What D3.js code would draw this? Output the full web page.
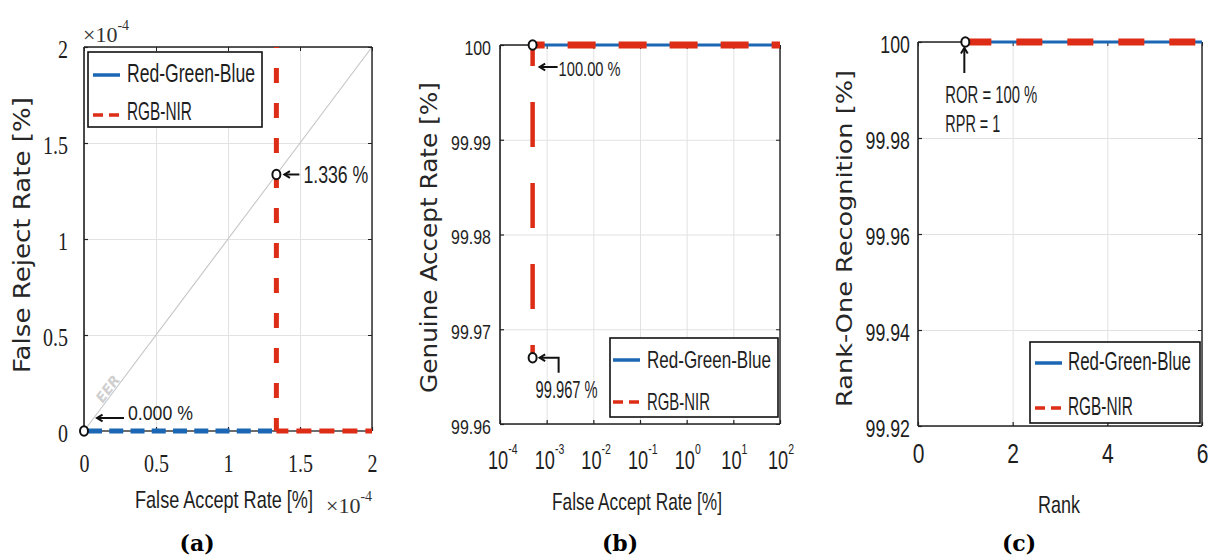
<!DOCTYPE html>
<html>
<head>
<meta charset="utf-8">
<script src="https://cdn.jsdelivr.net/npm/d3@7"></script>
<style>
  body { margin: 0; background: #fff; }
  svg { display: block; }
</style>
</head>
<body>
<svg id="chart" width="1211" height="560"></svg>
<script>
// ---------- (a) DET curves (values in %) ----------
const detTicks = [0, 0.5e-4, 1e-4, 1.5e-4, 2e-4];
const detRgbFar = [0, 1.336e-4];
const detRgbFrr = [0, 0];
const detNirFar = [1.336e-4, 1.336e-4, 2e-4];
const detNirFrr = [2e-4, 0, 0];
const eerRgb = 0;
const eerNir = 1.336e-4;

// ---------- (b) ROC curves ----------
const rocTicksX = [1e-4, 1e-3, 1e-2, 1e-1, 1, 10, 100];
const rocTicksY = [99.96, 99.97, 99.98, 99.99, 100];
const rocRgbFar = [5e-4, 100];
const rocRgbGar = [100, 100];
const rocNirFar = [5e-4, 5e-4, 100];
const rocNirGar = [99.967, 100, 100];

// ---------- (c) CMC curves ----------
const cmcTicksX = [0, 2, 4, 6];
const cmcTicksY = [99.92, 99.94, 99.96, 99.98, 100];
const cmcRank = [1, 2, 3, 4, 5, 6];
const cmcRgb = [100, 100, 100, 100, 100, 100];
const cmcNir = [100, 100, 100, 100, 100, 100];
const rprValue = 1;

const seriesNames = ["Red-Green-Blue", "RGB-NIR"];

// ---------- styling ----------
const BLUE = "#1b67b3";
const RED = "#dd2d17";
const INK = "#1e1e1e";
const GRID = "#e2e2e2";
const SANS = "'Liberation Sans', Arial, sans-serif";
const SERIF = "'Liberation Serif', 'Times New Roman', serif";
const WIDE = "'DejaVu Sans', Verdana, sans-serif";

const svg = d3.select("#chart");

// Text helper; when a width is given the glyphs are squeezed horizontally to fit it
function label(g, s, x, y, o = {}) {
  const t = g.append("text")
    .attr("font-family", o.family || SANS)
    .attr("font-size", o.size || 22)
    .attr("fill", o.fill || INK)
    .attr("text-anchor", o.anchor || "start")
    .text(s);
  if (o.weight) t.attr("font-weight", o.weight);
  if (o.style) t.attr("font-style", o.style);
  const base = o.transform ? o.transform : `translate(${x},${y})`;
  let k = 1;
  if (o.width) {
    const w = t.node().getComputedTextLength();
    if (w > 0) k = o.width / w;
  }
  t.attr("x", 0).attr("y", 0).attr("transform", `${base} scale(${k},1)`);
  return t;
}

// "×10" with a raised exponent, as one text element
function multiplier(g, x, y, exp) {
  const t = g.append("text").attr("x", x).attr("y", y)
    .attr("font-family", SERIF).attr("font-size", 22).attr("fill", "#333");
  t.append("tspan").text("\u00d710");
  t.append("tspan").attr("dy", -12).attr("font-size", 14).text(exp);
}

function arrow(g, pts) {
  // pts: polyline, last point is the tip
  g.append("path").attr("d", d3.line()(pts))
    .attr("fill", "none").attr("stroke", "#111").attr("stroke-width", 2);
  const [a, b] = pts.slice(-2);
  const ang = Math.atan2(b[1] - a[1], b[0] - a[0]);
  const h = 6.5, w = 0.55;
  const p1 = [b[0] - h * Math.cos(ang - w), b[1] - h * Math.sin(ang - w)];
  const p2 = [b[0] - h * Math.cos(ang + w), b[1] - h * Math.sin(ang + w)];
  g.append("path").attr("d", d3.line()([p1, b, p2]))
    .attr("fill", "none").attr("stroke", "#111").attr("stroke-width", 2);
}

function marker(g, cx, cy) {
  g.append("ellipse").attr("cx", cx).attr("cy", cy).attr("rx", 4).attr("ry", 4.8)
    .attr("fill", "#fff").attr("stroke", "#111").attr("stroke-width", 2);
}

// Draw a stepped series; each straight run (horizontal / vertical) gets its own dash style
function series(g, xs, ys, x, y, runs) {
  const pts = xs.map((v, i) => [x(v), y(ys[i])]);
  const groups = [];
  let cur = [pts[0]];
  let dir = null;
  for (let i = 1; i < pts.length; i++) {
    const d = Math.abs(pts[i][0] - pts[i - 1][0]) < 0.01 ? "v" : "h";
    if (dir !== null && d !== dir) { groups.push(cur); cur = [pts[i - 1]]; }
    cur.push(pts[i]); dir = d;
  }
  groups.push(cur);
  groups.forEach((gp, i) => {
    const st = runs[Math.min(i, runs.length - 1)];
    g.append("path").attr("d", d3.line()(gp))
      .attr("fill", "none").attr("stroke", st.color).attr("stroke-width", st.width)
      .attr("stroke-dasharray", st.dash || null)
      .attr("stroke-dashoffset", st.offset || 0);
  });
}

function grid(g, x, y, xt, yt, box) {
  g.append("g").attr("transform", `translate(0,${box.bottom})`)
    .call(d3.axisBottom(x).tickValues(xt).tickSize(-(box.bottom - box.top)).tickFormat(""))
    .call(a => { a.select(".domain").remove(); a.selectAll("line").attr("stroke", GRID).attr("stroke-width", 1); });
  g.append("g").attr("transform", `translate(${box.left},0)`)
    .call(d3.axisLeft(y).tickValues(yt).tickSize(-(box.right - box.left)).tickFormat(""))
    .call(a => { a.select(".domain").remove(); a.selectAll("line").attr("stroke", GRID).attr("stroke-width", 1); });
}

function frame(g, box, bottomColor, bottomWidth) {
  const s = "#202020";
  g.append("line").attr("x1", box.left).attr("x2", box.right).attr("y1", box.top).attr("y2", box.top).attr("stroke", s).attr("stroke-width", 1.4);
  g.append("line").attr("x1", box.right).attr("x2", box.right).attr("y1", box.top).attr("y2", box.bottom).attr("stroke", s).attr("stroke-width", 1.4);
  g.append("line").attr("x1", box.left).attr("x2", box.left).attr("y1", box.top).attr("y2", box.bottom).attr("stroke", s).attr("stroke-width", 1.6);
  g.append("line").attr("x1", box.left).attr("x2", box.right).attr("y1", box.bottom).attr("y2", box.bottom)
    .attr("stroke", bottomColor || s).attr("stroke-width", bottomWidth || 1.6);
}

function axes(g, x, y, xt, yt, box, xfmt, yfmt, xo, yo) {
  const styleText = (a, o) => {
    a.select(".domain").remove();
    a.selectAll(".tick line").attr("stroke", "#222").attr("stroke-width", 1.2);
    a.selectAll(".tick text")
      .attr("x", null).attr("y", null).attr("dy", null)
      .attr("transform", `translate(${o.dx},${o.dy}) scale(${o.sx},1)`)
      .attr("font-family", o.family).attr("font-size", o.size)
      .attr("fill", INK).attr("text-anchor", o.anchor)
      .attr("dominant-baseline", "central");
  };
  const bx = g.append("g").attr("transform", `translate(0,${box.bottom})`)
    .call(d3.axisBottom(x).tickValues(xt).tickSize(-4).tickFormat(xfmt));
  styleText(bx, xo);
  const lx = g.append("g").attr("transform", `translate(${box.left},0)`)
    .call(d3.axisLeft(y).tickValues(yt).tickSize(-4).tickFormat(yfmt));
  styleText(lx, yo);
  g.append("g").attr("transform", `translate(0,${box.top})`)
    .call(d3.axisTop(x).tickValues(xt).tickSize(-4).tickFormat(""))
    .call(a => { a.select(".domain").remove(); a.selectAll("line").attr("stroke", "#222"); });
  g.append("g").attr("transform", `translate(${box.right},0)`)
    .call(d3.axisRight(y).tickValues(yt).tickSize(-4).tickFormat(""))
    .call(a => { a.select(".domain").remove(); a.selectAll("line").attr("stroke", "#222"); });
  return bx;
}

function legend(g, box, rows) {
  g.append("rect").attr("x", box.x).attr("y", box.y).attr("width", box.w).attr("height", box.h)
    .attr("fill", "#fff").attr("stroke", "#111").attr("stroke-width", 1.6);
  rows.forEach(r => {
    g.append("line").attr("x1", r.lx1).attr("x2", r.lx2).attr("y1", r.ly).attr("y2", r.ly)
      .attr("stroke", r.color).attr("stroke-width", r.sw).attr("stroke-dasharray", r.dash || null);
    label(g, r.text, r.tx, r.ty, { size: r.size, width: r.tw });
  });
}

// =================== (a) ===================
{
  const box = { left: 84, right: 372, top: 47, bottom: 431 };
  const g = svg.append("g");
  const x = d3.scaleLinear().domain([0, 2e-4]).range([box.left, box.right]);
  const y = d3.scaleLinear().domain([0, 2e-4]).range([box.bottom, box.top]);
  const fmt = d => d3.format(".2~r")(d / 1e-4);

  grid(g, x, y, detTicks, detTicks, box);

  // EER reference diagonal
  g.append("line").attr("x1", x(0)).attr("y1", y(0)).attr("x2", x(2e-4)).attr("y2", y(2e-4))
    .attr("stroke", "#c4c4c4").attr("stroke-width", 1.1);
  const ang = Math.atan2(y(2e-4) - y(0), x(2e-4) - x(0)) * 180 / Math.PI;
  label(g, "EER", 0, 0, {
    size: 14, family: WIDE, weight: "bold", style: "italic", fill: "#cfcfcf", anchor: "middle",
    transform: `translate(${x(0.22e-4) - 4},${y(0.22e-4) + 3}) rotate(${ang})`
  });

  frame(g, box, "#6d6d6d", 2);
  axes(g, x, y, detTicks, detTicks, box, fmt, fmt,
    { dx: 0, dy: 33, sx: 0.8, size: 25, family: SERIF, anchor: "middle" },
    { dx: -16, dy: 2, sx: 0.8, size: 25, family: SERIF, anchor: "end" });

  series(g, detRgbFar, detRgbFrr, x, y, [{ color: BLUE, width: 5, dash: "14,7.25", offset: 17.25 }]);
  series(g, detNirFar, detNirFrr, x, y, [
    { color: RED, width: 5, dash: "15,20", offset: 14 },
    { color: RED, width: 5, dash: "15,8", offset: 3 }
  ]);

  // EER markers
  const mx0 = x(eerRgb), my0 = y(eerRgb);
  marker(g, mx0, my0);
  arrow(g, [[mx0 + 40, my0 - 13], [mx0 + 13, my0 - 13]]);
  label(g, d3.format(".3f")(eerRgb / 1e-4) + " %", mx0 + 44, my0 - 11, { size: 21, width: 65 });

  const mx1 = x(eerNir), my1 = y(eerNir);
  marker(g, mx1, my1);
  arrow(g, [[mx1 + 23, my1], [mx1 + 8, my1]]);
  label(g, d3.format(".3f")(eerNir / 1e-4) + " %", mx1 + 27, my1 + 9, { size: 23, width: 65 });

  // exponent multipliers
  multiplier(g, 83, 42, "-4");
  multiplier(g, 326, 513, "-4");

  label(g, "False Accept Rate [%]", 135, 508, { size: 24, width: 178 });
  label(g, "False Reject Rate [%]", 0, 0, { size: 23, family: WIDE, width: 276, anchor: "middle", fill: "#262626",
    transform: "translate(30,235) rotate(-90)" });

  legend(g, { x: 88, y: 52, w: 174, h: 75 }, [
    { text: seriesNames[0], color: BLUE, sw: 3.5, lx1: 93, lx2: 120, ly: 75, tx: 127, ty: 82, size: 26, tw: 128 },
    { text: seriesNames[1], color: RED, sw: 3.5, dash: "10,6", lx1: 93, lx2: 120, ly: 115, tx: 127, ty: 120, size: 26, tw: 65 }
  ]);

  label(g, "(a)", 197, 551, { size: 22, family: "'DejaVu Serif', serif", weight: "bold", anchor: "middle", fill: "#000" });
}

// =================== (b) ===================
{
  const box = { left: 500, right: 780, top: 45, bottom: 424 };
  const g = svg.append("g");
  const x = d3.scaleLog().domain([1e-4, 1e2]).range([box.left, box.right]);
  const y = d3.scaleLinear().domain([99.96, 100]).range([box.bottom, box.top]);

  grid(g, x, y, rocTicksX, rocTicksY, box);
  frame(g, box);
  const bx = axes(g, x, y, rocTicksX, rocTicksY, box, () => "10", d => String(d),
    { dx: -12.5, dy: 36, sx: 0.7, size: 26, family: SANS, anchor: "start" },
    { dx: -9, dy: 2, sx: 0.76, size: 21, family: SANS, anchor: "end" });
  bx.selectAll(".tick text").append("tspan")
    .attr("dy", -12).attr("font-size", 15)
    .text(d => String(Math.round(Math.log10(d))));

  series(g, rocRgbFar, rocRgbGar, x, y, [{ color: BLUE, width: 3 }]);
  series(g, rocNirFar, rocNirGar, x, y, [
    { color: RED, width: 4.5, dash: "45,36", offset: 32.3 },
    { color: RED, width: 7, dash: "28,23", offset: 16 }
  ]);

  // operating points
  const ax = x(rocNirFar[1]), ay = y(rocNirGar[1]);
  marker(g, ax, ay);
  arrow(g, [[ax + 25, ay + 22], [ax + 7, ay + 22]]);
  label(g, d3.format(".2f")(rocNirGar[1]) + " %", ax + 26, ay + 31, { size: 21, width: 62 });

  const bx0 = x(rocNirFar[0]), by0 = y(rocNirGar[0]);
  marker(g, bx0, by0);
  arrow(g, [[bx0 + 26, by0 + 15], [bx0 + 26, by0], [bx0 + 7, by0]]);
  label(g, d3.format(".3f")(rocNirGar[0]) + " %", bx0 + 3, by0 + 40, { size: 23, width: 62 });

  label(g, "False Accept Rate [%]", 552, 510, { size: 24, width: 170 });
  label(g, "Genuine Accept Rate [%]", 0, 0, { size: 23, family: WIDE, width: 311, anchor: "middle", fill: "#262626",
    transform: "translate(437,237.5) rotate(-90)" });

  legend(g, { x: 610, y: 338, w: 168, h: 79 }, [
    { text: seriesNames[0], color: BLUE, sw: 3.5, lx1: 613, lx2: 640, ly: 360, tx: 647, ty: 368, size: 23, tw: 124 },
    { text: seriesNames[1], color: RED, sw: 3.5, dash: "10,6", lx1: 613, lx2: 640, ly: 402, tx: 647, ty: 410, size: 23, tw: 63 }
  ]);

  label(g, "(b)", 620, 551, { size: 22, family: "'DejaVu Serif', serif", weight: "bold", anchor: "middle", fill: "#000" });
}

// =================== (c) ===================
{
  const box = { left: 918, right: 1202, top: 42, bottom: 426 };
  const g = svg.append("g");
  const x = d3.scaleLinear().domain([0, 6]).range([box.left, box.right]);
  const y = d3.scaleLinear().domain([99.92, 100]).range([box.bottom, box.top]);

  grid(g, x, y, cmcTicksX, cmcTicksY, box);
  frame(g, box);
  axes(g, x, y, cmcTicksX, cmcTicksY, box, d => String(d), d => String(d),
    { dx: 0, dy: 27, sx: 0.75, size: 28, family: SANS, anchor: "middle" },
    { dx: -8, dy: 2, sx: 0.74, size: 24, family: SANS, anchor: "end" });

  series(g, cmcRank, cmcRgb, x, y, [{ color: BLUE, width: 3 }]);
  series(g, cmcRank, cmcNir, x, y, [{ color: RED, width: 7, dash: "26,25", offset: 0 }]);

  const mx = x(cmcRank[0]), my = y(cmcNir[0]);
  marker(g, mx, my);
  arrow(g, [[mx - 1, my + 31], [mx - 1, my + 6]]);
  label(g, "ROR = " + cmcNir[0] + " %", mx - 20, my + 61, { size: 24, width: 92 });
  label(g, "RPR = " + rprValue, mx - 20, my + 90, { size: 24, width: 55 });

  label(g, "Rank", 1038, 513, { size: 24, width: 42 });
  label(g, "Rank-One Recognition [%]", 0, 0, { size: 22, family: WIDE, width: 337, anchor: "middle", fill: "#262626",
    transform: "translate(852,238.5) rotate(-90)" });

  legend(g, { x: 1030, y: 342, w: 170, h: 81 }, [
    { text: seriesNames[0], color: BLUE, sw: 3.5, lx1: 1035, lx2: 1062, ly: 363, tx: 1068, ty: 370, size: 25, tw: 123 },
    { text: seriesNames[1], color: RED, sw: 3.5, dash: "10,6", lx1: 1035, lx2: 1062, ly: 408, tx: 1068, ty: 415, size: 25, tw: 65 }
  ]);

  label(g, "(c)", 1019, 551, { size: 22, family: "'DejaVu Serif', serif", weight: "bold", anchor: "middle", fill: "#000" });
}
</script>
</body>
</html>
